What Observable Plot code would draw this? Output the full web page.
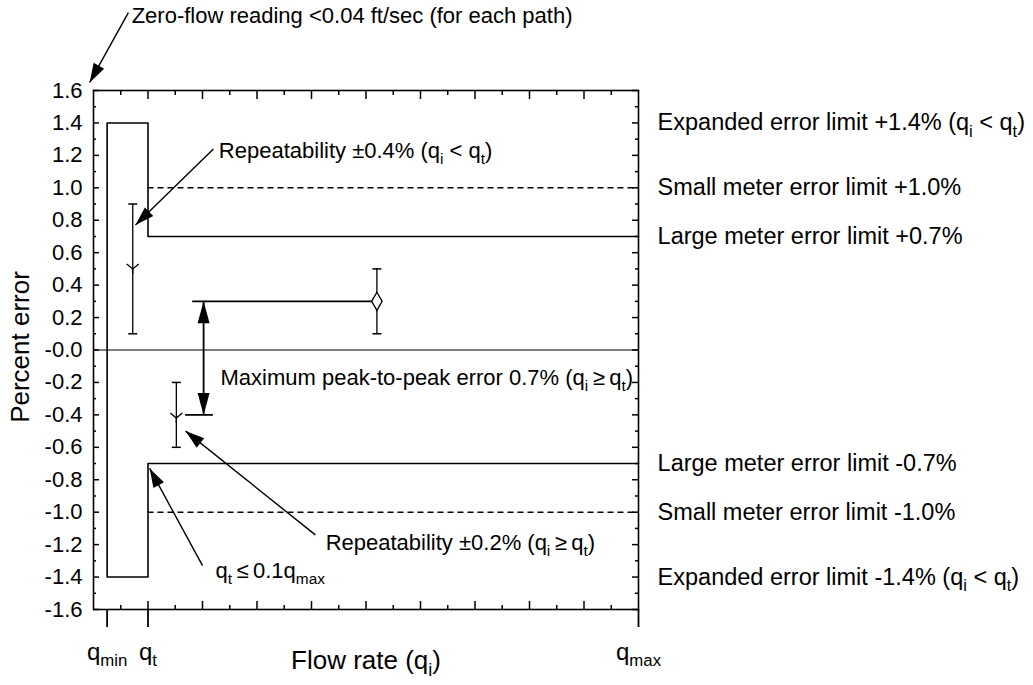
<!DOCTYPE html>
<html>
<head>
<meta charset="utf-8">
<script src="https://cdn.jsdelivr.net/npm/d3@7"></script>
<script src="https://cdn.jsdelivr.net/npm/@observablehq/plot@0.6"></script>
<style>
  html, body { margin: 0; padding: 0; background: #fff; }
  #chart svg { display: block; }
</style>
</head>
<body>
<div id="chart"></div>
<script>
// ---------- axes ----------
const yTickValues = [-1.6,-1.4,-1.2,-1.0,-0.8,-0.6,-0.4,-0.2,0,0.2,0.4,0.6,0.8,1.0,1.2,1.4,1.6];
const yTickLabels = ["-1.6","-1.4","-1.2","-1.0","-0.8","-0.6","-0.4","-0.2","-0.0","0.2","0.4","0.6","0.8","1.0","1.2","1.4","1.6"];
const yMinorTicks = [-1.5,-1.3,-1.1,-0.9,-0.7,-0.5,-0.3,-0.1,0.1,0.3,0.5,0.7,0.9,1.1,1.3,1.5];
const xMajorTicks = [1,2,3,4,5,6,7,8,9];
const xMinorTicks = [0.5,1.5,2.5,3.5,4.5,5.5,6.5,7.5,8.5,9.5];
const xLabelValues = [0.25, 1, 10];
const xLabelNames = ["q_{min}", "q_{t}", "q_{max}"];
const xTitle = "Flow rate (q_{i})";
const yTitle = "Percent error";

// ---------- limit lines ----------
const limitX = [10, 1, 1, 0.25, 0.25, 1, 1, 10];
const limitY = [0.7, 0.7, 1.4, 1.4, -1.4, -1.4, -0.7, -0.7];
const smallLimits = [1.0, -1.0];
const qT = 1, qMax = 10;

// ---------- measured points ----------
const pointX = [0.72, 1.52, 5.2];
const pointY = [0.5, -0.42, 0.3];
const pointLo = [0.1, -0.6, 0.1];
const pointHi = [0.9, -0.2, 0.5];
const pointSymbol = ["wye", "wye", "diamond"];

// ---------- peak-to-peak construction ----------
const peakLineY = [0.3, -0.4];
const peakLineX1 = [1.82, 1.69];
const peakLineX2 = [5.2, 2.2];
const peakArrowX = 2.02;

// ---------- right-hand labels ----------
const rightLabels = [
  "Expanded error limit +1.4% (q_{i} < q_{t})",
  "Small meter error limit +1.0%",
  "Large meter error limit +0.7%",
  "Large meter error limit -0.7%",
  "Small meter error limit -1.0%",
  "Expanded error limit -1.4% (q_{i} < q_{t})"
];
const rightLabelY = [1.4, 1.0, 0.7, -0.7, -1.0, -1.4];
const rightLabelX = 10.35;

// ---------- annotations ----------
const noteText = [
  "Zero-flow reading <0.04 ft/sec (for each path)",
  "Repeatability ±0.4% (q_{i} < q_{t})",
  "Maximum peak-to-peak error 0.7% (q_{i}\u2009≥\u2009q_{t})",
  "Repeatability ±0.2% (q_{i}\u2009≥\u2009q_{t})",
  "q_{t}\u2009≤\u20090.1q_{max}"
];
const noteX = [0.7, 2.3, 2.33, 4.26, 2.24];
const noteY = [2.06, 1.23, -0.17, -1.19, -1.36];

const arrowX1 = [0.64, 2.2, 4.07, 2.0];
const arrowY1 = [2.08, 1.24, -1.14, -1.33];
const arrowX2 = [-0.07, 0.77, 1.69, 1.03];
const arrowY2 = [1.65, 0.77, -0.5, -0.73];

// ---------- layout ----------
const W = 1033, H = 685;
const mL = 93, mR = 395, mT = 90, mB = 76;
const FONT = "'Liberation Sans', Arial, Helvetica, sans-serif";

const sx = Plot.scale({x: {domain: [0, 10], range: [mL, W - mR]}});
const sy = Plot.scale({y: {domain: [-1.6, 1.6], range: [H - mB, mT]}});
function screenAngle(x1, y1, x2, y2) {
  const dx = sx.apply(x2) - sx.apply(x1);
  const dy = sy.apply(y2) - sy.apply(y1);
  return Math.atan2(dx, -dy) * 180 / Math.PI;
}

// custom symbols
const capSymbol = {draw(ctx, size) { const r = Math.sqrt(size / Math.PI); ctx.moveTo(-r, 0); ctx.lineTo(r, 0); }};
const ySymbol = {draw(ctx) { ctx.moveTo(-6, -5); ctx.lineTo(0, 0); ctx.lineTo(6, -5); ctx.moveTo(0, 0); ctx.lineTo(0, 5); }};
const headSmall = {draw(ctx) { ctx.moveTo(0, 0); ctx.lineTo(6, 19); ctx.lineTo(-6, 19); ctx.closePath(); }};
const headBig = {draw(ctx) { ctx.moveTo(0, 0); ctx.lineTo(6, 22); ctx.lineTo(-6, 22); ctx.closePath(); }};

const points = pointX.map((x, i) => ({x, y: pointY[i], lo: pointLo[i], hi: pointHi[i], symbol: pointSymbol[i]}));
const arrows = arrowX1.map((x1, i) => ({
  x1, y1: arrowY1[i], x2: arrowX2[i], y2: arrowY2[i],
  angle: screenAngle(x1, arrowY1[i], arrowX2[i], arrowY2[i])
}));
const notes = noteText.map((t, i) => ({t, x: noteX[i], y: noteY[i]}));
const rights = rightLabels.map((t, i) => ({t, y: rightLabelY[i]}));
const peakHeads = peakLineY.map((y, i) => ({x: peakArrowX, y, angle: i === 0 ? 0 : 180}));

const blank = () => "";

const plot = Plot.plot({
  width: W, height: H,
  marginLeft: mL, marginRight: mR, marginTop: mT, marginBottom: mB,
  x: {domain: [0, 10], label: null},
  y: {domain: [-1.6, 1.6], label: null},
  style: {fontFamily: FONT, fontSize: "22px", color: "black", background: "white"},
  marks: [
    // inward ticks
    Plot.axisX(xMajorTicks, {anchor: "bottom", tickSize: -8, tickFormat: blank, label: null, strokeWidth: 1.5}),
    Plot.axisX(xMinorTicks, {anchor: "bottom", tickSize: -4, tickFormat: blank, label: null, strokeWidth: 1.5}),
    Plot.axisX(xMajorTicks, {anchor: "top", tickSize: -8, tickFormat: blank, label: null, strokeWidth: 1.5}),
    Plot.axisX(xMinorTicks, {anchor: "top", tickSize: -4, tickFormat: blank, label: null, strokeWidth: 1.5}),
    Plot.axisY(yTickValues, {anchor: "left", tickSize: -6, tickFormat: blank, label: null, strokeWidth: 1.5}),
    Plot.axisY(yMinorTicks, {anchor: "left", tickSize: -3, tickFormat: blank, label: null, strokeWidth: 1.5}),
    Plot.axisY(yTickValues, {anchor: "right", tickSize: -7, tickFormat: blank, label: null, strokeWidth: 1.5}),
    Plot.axisY(yMinorTicks, {anchor: "right", tickSize: -4, tickFormat: blank, label: null, strokeWidth: 1.5}),
    // labelled axes
    Plot.axisY(yTickValues, {anchor: "left", tickSize: 0, tickPadding: 11, label: null,
      tickFormat: d => yTickLabels[yTickValues.indexOf(d)], fontSize: 22}),
    Plot.axisX(xLabelValues, {anchor: "bottom", tickSize: 18, tickPadding: 15, label: null, strokeWidth: 1.8,
      tickFormat: d => xLabelNames[xLabelValues.indexOf(d)], fontSize: 24}),
    // axis titles
    Plot.text([yTitle], {frameAnchor: "left", textAnchor: "middle", dx: -73, dy: -3, rotate: -90, fontSize: 26}),
    Plot.text([xTitle], {frameAnchor: "bottom", textAnchor: "middle", dy: 59, fontSize: 26}),
    // frame
    Plot.frame({stroke: "black", strokeWidth: 1.6}),
    // zero line
    Plot.ruleY([0], {stroke: "black", strokeWidth: 1.2}),
    // small meter limits (dashed)
    Plot.ruleY(smallLimits, {x1: qT, x2: qMax, stroke: "black", strokeWidth: 1.4, strokeDasharray: "6,4"}),
    // expanded + large meter limits
    Plot.line(d3.zip(limitX, limitY), {stroke: "black", strokeWidth: 1.6}),
    // error bars
    Plot.ruleX(points, {x: "x", y1: "lo", y2: "hi", stroke: "black", strokeWidth: 1.3}),
    Plot.dot(points, {x: "x", y: "lo", symbol: capSymbol, r: 4.5, stroke: "black", strokeWidth: 1.5}),
    Plot.dot(points, {x: "x", y: "hi", symbol: capSymbol, r: 4.5, stroke: "black", strokeWidth: 1.5}),
    // peak-to-peak construction lines
    Plot.ruleY(peakLineY, {y: peakLineY, x1: peakLineX1, x2: peakLineX2, stroke: "black", strokeWidth: 1.8}),
    Plot.ruleX([peakArrowX], {y1: peakLineY[0], y2: peakLineY[1], stroke: "black", strokeWidth: 1.8}),
    Plot.dot(peakHeads, {x: "x", y: "y", rotate: "angle", symbol: headBig, r: 1, fill: "black", stroke: "none"}),
    // markers
    Plot.dot(points, {filter: d => d.symbol === "wye", x: "x", y: "y", symbol: ySymbol, r: 5, stroke: "black", fill: "none", strokeWidth: 1.3}),
    Plot.dot(points, {filter: d => d.symbol === "diamond", x: "x", y: "y", symbol: "diamond", r: 5.5, stroke: "black", fill: "white", strokeWidth: 1.3}),
    // annotation arrows
    Plot.link(arrows, {x1: "x1", y1: "y1", x2: "x2", y2: "y2", stroke: "black", strokeWidth: 1.4}),
    Plot.dot(arrows, {x: "x2", y: "y2", rotate: "angle", symbol: headSmall, r: 1, fill: "black", stroke: "none"}),
    // annotation texts
    Plot.text(notes, {x: "x", y: "y", text: "t", textAnchor: "start", fontSize: 22, fill: "black"}),
    // right-hand labels
    Plot.text(rights, {x: rightLabelX, y: "y", text: "t", textAnchor: "start", fontSize: 23.5, fill: "black"})
  ]
});

document.getElementById("chart").appendChild(plot);

// subscript markup q_{i} -> real subscript tspans
function applySubscripts(root) {
  root.querySelectorAll("text").forEach(el => {
    const targets = el.querySelector("tspan") ? [...el.querySelectorAll("tspan")] : [el];
    targets.forEach(t => {
      const s = t.textContent;
      if (!s.includes("_{")) return;
      const fs = parseFloat(getComputedStyle(t).fontSize) || 22;
      const shift = fs * 0.28;
      t.textContent = "";
      const parts = s.split(/_\{([^}]*)\}/);
      let shifted = false;
      parts.forEach((p, i) => {
        if (p === "") return;
        const ts = document.createElementNS("http://www.w3.org/2000/svg", "tspan");
        ts.textContent = p;
        if (i % 2 === 1) {
          ts.setAttribute("dy", shift);
          ts.setAttribute("font-size", (fs * 0.7).toFixed(1));
          shifted = true;
        } else if (shifted) {
          ts.setAttribute("dy", -shift);
          shifted = false;
        }
        t.appendChild(ts);
      });
    });
  });
}
applySubscripts(plot);
</script>
</body>
</html>
